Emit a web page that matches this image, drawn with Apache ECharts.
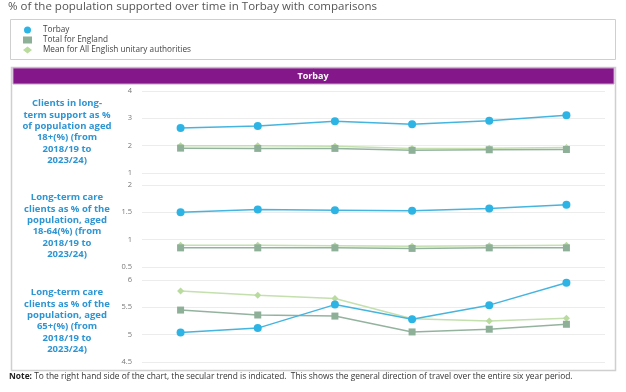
<!DOCTYPE html>
<html><head><meta charset="utf-8">
<script src="https://cdn.jsdelivr.net/npm/echarts@6/dist/echarts.min.js"></script>
<style>html,body{margin:0;padding:0;background:#fff}#c{width:626px;height:392px}</style>
</head><body><div id="c"></div>
<script>
const years = ['2018/19','2019/20','2020/21','2021/22','2022/23','2023/24'];
const seriesNames = ['Torbay','Total for England','Mean for All English unitary authorities'];
const panelLabels = [
  'Clients in long-\nterm support as %\nof population aged\n18+(%) (from\n2018/19 to\n2023/24)',
  'Long-term care\nclients as % of the\npopulation, aged\n18-64(%) (from\n2018/19 to\n2023/24)',
  'Long-term care\nclients as % of the\npopulation, aged\n65+(%) (from\n2018/19 to\n2023/24)'
];
const torbay18 = [2.65, 2.72, 2.89, 2.78, 2.91, 3.11];
const england18 = [1.91, 1.90, 1.90, 1.83, 1.85, 1.86];
const mean18 = [2.00, 2.00, 1.98, 1.90, 1.91, 1.93];
const torbay1864 = [1.50, 1.55, 1.54, 1.53, 1.57, 1.64];
const england1864 = [0.85, 0.85, 0.85, 0.84, 0.85, 0.85];
const mean1864 = [0.90, 0.90, 0.89, 0.88, 0.89, 0.90];
const torbay65 = [5.04, 5.12, 5.55, 5.28, 5.54, 5.95];
const england65 = [5.45, 5.36, 5.34, 5.05, 5.10, 5.19];
const mean65 = [5.80, 5.72, 5.66, 5.29, 5.25, 5.30];
const axisRanges = [[1,4,1],[0.5,2,0.5],[4.5,6,0.5]];

const panels = [[torbay18, england18, mean18],[torbay1864, england1864, mean1864],[torbay65, england65, mean65]];
const gridTops = [91, 185, 280];
const gridH = 82;
const colors = ['#2DB4E4','#8EAF98','#BADB9E'];
const lineColors = ['#45B5DF','#94B39F','#C4E0AE'];
const symbols = ['circle','rect','diamond'];
const symSizes = [8,7,7];

const chart = echarts.init(document.getElementById('c'));
const grids=[], xAxes=[], yAxes=[], series=[], graphics=[];
panels.forEach((p,i)=>{
  grids.push({left:142, right:21, top:gridTops[i], height:gridH});
  xAxes.push({type:'category', data:years, gridIndex:i, boundaryGap:true, show:false});
  yAxes.push({type:'value', gridIndex:i, min:axisRanges[i][0], max:axisRanges[i][1], interval:axisRanges[i][2],
    axisLine:{show:false}, axisTick:{show:false},
    axisLabel:{fontSize:7.5, color:'#777', margin:10, fontFamily:'Open Sans'},
    splitLine:{lineStyle:{color:'#ececec', width:1}}});
  p.forEach((d,j)=>{
    series.push({name:seriesNames[j], type:'line', xAxisIndex:i, yAxisIndex:i, data:d,
      symbol:symbols[j], symbolSize:symSizes[j], showAllSymbol:true,
      itemStyle:{color:colors[j]}, lineStyle:{color:lineColors[j], width:1.5}, z: 3-j, animation:false});
  });
  graphics.push({type:'text', style:{text:panelLabels[i], x:67, y:gridTops[i]+gridH/2,
    textAlign:'center', textVerticalAlign:'middle', font:'bold 9.5px "Open Sans"', fill:'#2E95D3', lineHeight:11.4}});
});
graphics.push(
  {type:'rect', shape:{x:10.5,y:19.5,width:605,height:40}, style:{fill:'none', stroke:'#cfcfcf', lineWidth:1}, z:-1},
  {type:'rect', shape:{x:11.5,y:67.5,width:604,height:303}, style:{fill:'none', stroke:'#cfcfcf', lineWidth:1.5}, z:-1},
  {type:'rect', shape:{x:13,y:68,width:601,height:16}, style:{fill:'#84178A', stroke:'#c7a0c9', lineWidth:1}, z:-1},
  {type:'text', style:{text:'Torbay', x:313, y:76, textAlign:'center', textVerticalAlign:'middle', font:'bold 9px "Open Sans"', fill:'#fff'}},
  {type:'text', style:{text:'% of the population supported over time in Torbay with comparisons', x:8, y:7, textVerticalAlign:'middle', font:'11.5px "Open Sans"', fill:'#555'}},
  {type:'text', style:{rich:{b:{fontWeight:'bold',fontSize:8.4,fontFamily:'Open Sans',fill:'#222'},n:{fontSize:8.4,fontFamily:'Open Sans',fill:'#333'}}, text:'{b|Note:}{n| To the right hand side of the chart, the secular trend is indicated.  This shows the general direction of travel over the entire six year period.}', x:9, y:377, textVerticalAlign:'middle'}}
);
chart.setOption({
  animation:false,
  grid:grids, xAxis:xAxes, yAxis:yAxes, series:series, graphic:graphics,
  legend:{orient:'vertical', left:18, top:21, itemWidth:9, itemHeight:7, itemGap:2,
    data:[{name:seriesNames[0],icon:'circle'},{name:seriesNames[1],icon:'rect'},{name:seriesNames[2],icon:'diamond'}],
    textStyle:{fontSize:8.2, color:'#444', fontFamily:'Open Sans', padding:[0,0,0,6]}, selectedMode:false}
});
</script></body></html>
